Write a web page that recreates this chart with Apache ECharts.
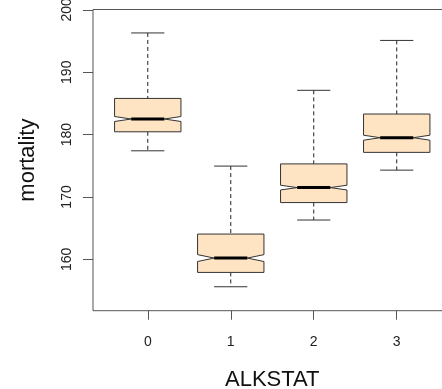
<!DOCTYPE html>
<html>
<head>
<meta charset="utf-8">
<script src="https://cdn.jsdelivr.net/npm/echarts@6/dist/echarts.min.js"></script>
<style>
  html, body { margin: 0; padding: 0; background: #fff; }
  #chart { width: 442px; height: 389px; }
</style>
</head>
<body>
<div id="chart"></div>
<script>
// Mortality by ALKSTAT group: notched box-and-whisker summaries
const categories = [0, 1, 2, 3];
const lowerWhisker = [177.4, 155.6, 166.3, 174.3];
const quartile1    = [180.45, 157.9, 169.1, 177.15];
const notchLow     = [182.1, 159.65, 171.12, 179.1];
const median       = [182.5, 160.2, 171.5, 179.5];
const notchHigh    = [182.9, 160.75, 171.88, 179.9];
const quartile3    = [185.8, 164.05, 175.3, 183.3];
const upperWhisker = [196.3, 174.95, 187.1, 195.1];
const yTicks = [160, 170, 180, 190, 200];

const boxData = categories.map((c, i) => [
  c, lowerWhisker[i], quartile1[i], notchLow[i], median[i],
  notchHigh[i], quartile3[i], upperWhisker[i]
]);

const BOX_WIDTH = 0.8;      // in category units
const FILL = '#FFE4C4';
const EDGE = '#333333';

function renderBox(params, api) {
  const x = api.value(0);
  const w = api.size([BOX_WIDTH, 0])[0];
  const cx = api.coord([x, api.value(4)])[0];
  const y = k => api.coord([x, api.value(k)])[1];
  const yLo = y(1), yQ1 = y(2), yNlo = y(3), yMed = y(4),
        yNhi = y(5), yQ3 = y(6), yHi = y(7);
  const xl = cx - w / 2, xr = cx + w / 2;
  const inset = w / 4;
  const cap = w / 4;
  const dash = { stroke: '#222', lineWidth: 1, lineDash: [4, 3] };
  const solid = { stroke: '#333', lineWidth: 1 };
  return {
    type: 'group',
    children: [
      { type: 'line', shape: { x1: cx, y1: yHi, x2: cx, y2: yQ3 }, style: dash },
      { type: 'line', shape: { x1: cx, y1: yQ1, x2: cx, y2: yLo }, style: dash },
      { type: 'line', shape: { x1: cx - cap, y1: yHi, x2: cx + cap, y2: yHi }, style: solid },
      { type: 'line', shape: { x1: cx - cap, y1: yLo, x2: cx + cap, y2: yLo }, style: solid },
      {
        type: 'polygon',
        shape: {
          points: [
            [xl, yQ3], [xr, yQ3], [xr, yNhi], [xr - inset, yMed], [xr, yNlo],
            [xr, yQ1], [xl, yQ1], [xl, yNlo], [xl + inset, yMed], [xl, yNhi]
          ]
        },
        style: { fill: FILL, stroke: EDGE, lineWidth: 1 }
      },
      {
        type: 'line',
        shape: { x1: cx - inset, y1: yMed, x2: cx + inset, y2: yMed },
        style: { stroke: '#000', lineWidth: 3 }
      }
    ]
  };
}

const chart = echarts.init(document.getElementById('chart'), null, { renderer: 'canvas' });
const font = 'Liberation Sans, Arial, sans-serif';

chart.setOption({
  animation: false,
  backgroundColor: '#fff',
  grid: {
    left: 93, top: 9.5, width: 358.5, height: 301.2,
    outerBoundsMode: 'none', containLabel: false,
    show: true, borderColor: '#555', borderWidth: 1, backgroundColor: 'transparent'
  },
  xAxis: {
    type: 'value',
    min: -0.66, max: 3.66,
    name: 'ALKSTAT',
    nameLocation: 'middle',
    nameGap: 58,
    nameTextStyle: { fontFamily: font, fontSize: 22, color: '#111', verticalAlign: 'top' },
    axisLine: { show: false, onZero: false },
    splitLine: { show: false },
    axisTick: { show: true, length: 9, inside: false, customValues: categories,
                lineStyle: { color: '#555', width: 1 } },
    axisLabel: { customValues: categories, margin: 24, fontFamily: font, fontSize: 14,
                 color: '#222', formatter: v => String(v) }
  },
  yAxis: {
    type: 'value',
    min: 151.76, max: 200.06,
    name: 'mortality',
    nameLocation: 'middle',
    nameRotate: 90,
    nameGap: 54,
    nameTextStyle: { fontFamily: font, fontSize: 22, color: '#111' },
    axisLine: { show: false, onZero: false },
    splitLine: { show: false },
    axisTick: { show: true, length: 10, inside: false, customValues: yTicks,
                lineStyle: { color: '#555', width: 1 } },
    axisLabel: { customValues: yTicks, rotate: 90, margin: 19, fontFamily: font, fontSize: 14,
                 color: '#222', formatter: v => String(v) }
  },
  series: [{
    type: 'custom',
    renderItem: renderBox,
    encode: { x: 0, y: [1, 2, 3, 4, 5, 6, 7] },
    data: boxData,
    clip: false
  }]
});
</script>
</body>
</html>
